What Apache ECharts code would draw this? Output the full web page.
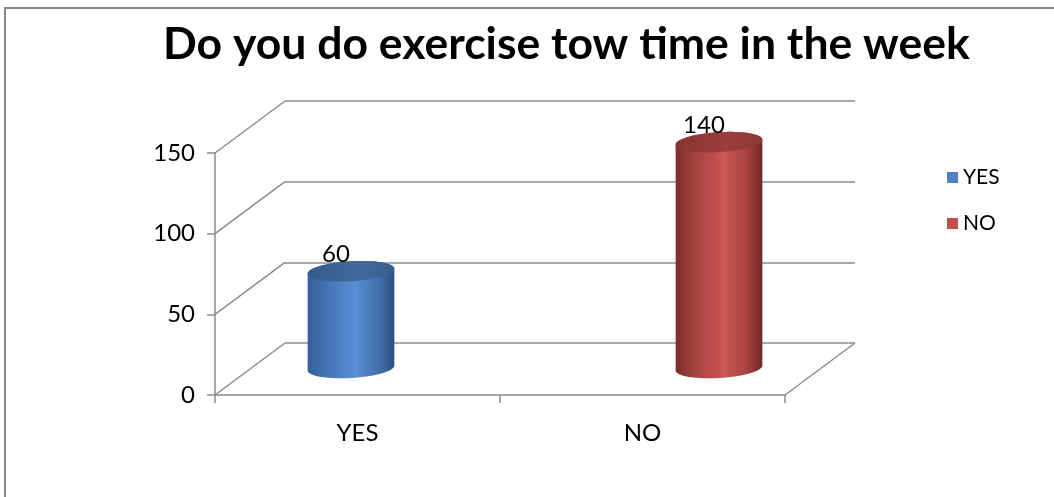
<!DOCTYPE html>
<html>
<head>
<meta charset="utf-8">
<title>Do you do exercise tow time in the week</title>
<script src="https://cdn.jsdelivr.net/npm/echarts@6/dist/echarts.min.js"></script>
<style>
  html, body { margin: 0; padding: 0; background: #ffffff; }
  #chart { width: 1054px; height: 497px; }
</style>
</head>
<body>
<div id="chart"></div>
<script>
// ---- data ----
const categories = ['YES', 'NO'];
const answerCounts = [60, 140];
const yTicks = [0, 50, 100, 150];
const seriesColors = ['#4f81bd', '#c0504d'];

// ---- layout / style ----
const FONT = 'Lato, "Open Sans", sans-serif';
const GRID_COLOR = '#8c8c8c';
const FRONT = { left: 215, top: 153, width: 570, height: 242 };
const DEPTH = [70, -52];                       // offset from front to back wall
const MID = { left: 167, top: 126, width: 736, height: 242 }; // plane the cylinders stand in
const BAR_RATIO = 0.236;                       // cylinder width / category band
const ELLIPSE_RATIO = 0.23;                    // ellipse ry / rx
const TILT = -0.06;                            // ellipse tilt (radians)

const bodyStops = [
  [[0, '#35609a'], [0.18, '#416fae'], [0.55, '#5a8fd6'], [0.82, '#426fad'], [1, '#2b4f80']],
  [[0, '#7a2d2b'], [0.18, '#9e3f3c'], [0.55, '#cd5653'], [0.82, '#a84441'], [1, '#6f2827']]
];
const topStops = [
  [[0, '#365a8a'], [0.6, '#42699c'], [1, '#3a5f90']],
  [[0, '#873534'], [0.6, '#9a3e3c'], [1, '#8c3836']]
];

function ellipsePoints(cx, cy, rx, ry, a, t0, t1, n) {
  const pts = [];
  const ca = Math.cos(a), sa = Math.sin(a);
  for (let i = 0; i <= n; i++) {
    const t = t0 + (t1 - t0) * i / n;
    const ex = rx * Math.cos(t), ey = ry * Math.sin(t);
    pts.push([cx + ex * ca - ey * sa, cy + ex * sa + ey * ca]);
  }
  return pts;
}

function renderCylinder(idx) {
  return function (params, api) {
    const cat = api.value(0), val = api.value(1);
    const base = api.coord([cat, 0]);
    const top = api.coord([cat, val]);
    const rx = api.size([1, 0])[0] * BAR_RATIO / 2;
    const ry = rx * ELLIPSE_RATIO;
    const cx = base[0];
    // outline: upper half of the top ellipse + lower half of the bottom ellipse
    const upper = ellipsePoints(cx, top[1], rx, ry, TILT, 0, -Math.PI, 40);
    const lower = ellipsePoints(cx, base[1], rx, ry, TILT, Math.PI, 0, 40);
    const body = upper.concat(lower);
    const topFace = ellipsePoints(cx, top[1], rx, ry, TILT, 0, 2 * Math.PI, 80);
    return {
      type: 'group',
      children: [
        {
          type: 'polygon',
          shape: { points: body },
          style: { fill: new echarts.graphic.LinearGradient(0, 0, 1, 0,
            bodyStops[idx].map(s => ({ offset: s[0], color: s[1] }))) }
        },
        {
          type: 'polygon',
          shape: { points: topFace },
          style: { fill: new echarts.graphic.LinearGradient(0, 0, 1, 0,
            topStops[idx].map(s => ({ offset: s[0], color: s[1] }))) }
        },
        {
          type: 'text',
          x: cx - 15,
          y: top[1] - ry - 7,
          style: {
            text: String(val),
            fill: '#000000',
            font: '24px ' + FONT,
            align: 'center',
            verticalAlign: 'middle'
          }
        }
      ]
    };
  };
}

// diagonal edges of the left wall and the floor
function renderWallEdges(params, api) {
  const v = api.value(1);
  const p = api.coord([0, v]);
  const children = [{
    type: 'line',
    shape: { x1: p[0], y1: p[1], x2: p[0] + DEPTH[0], y2: p[1] + DEPTH[1] },
    style: { stroke: GRID_COLOR, lineWidth: 1.5 }
  }];
  if (v === 0) {
    const q = api.coord([1, 0]);
    children.push({
      type: 'line',
      shape: { x1: q[0], y1: q[1], x2: q[0] + DEPTH[0], y2: q[1] + DEPTH[1] },
      style: { stroke: GRID_COLOR, lineWidth: 1.5 }
    });
  }
  return { type: 'group', children: children };
}

const chart = echarts.init(document.getElementById('chart'), null, { renderer: 'canvas' });

const cylinderSeries = categories.map((name, i) => ({
  name: name,
  type: 'custom',
  xAxisIndex: 2,
  yAxisIndex: 2,
  itemStyle: { color: seriesColors[i] },
  renderItem: renderCylinder(i),
  data: [[i, answerCounts[i]]],
  z: 5
}));

chart.setOption({
  animation: false,
  backgroundColor: '#ffffff',
  title: {
    text: 'Do you do exercise tow time in the week',
    left: 158,
    top: 17,
    textStyle: { fontFamily: FONT, fontWeight: 'bold', fontSize: 44.5, color: '#000000' }
  },
  legend: {
    orient: 'vertical',
    left: 942,
    top: 162,
    itemWidth: 11,
    itemHeight: 11,
    itemGap: 25,
    icon: 'rect',
    data: categories,
    textStyle: { fontFamily: FONT, fontSize: 21, color: '#000000' }
  },
  graphic: [{
    type: 'rect',
    shape: { x: 5, y: 8, width: 1100, height: 600 },
    style: { fill: 'none', stroke: '#888888', lineWidth: 2 },
    silent: true
  }],
  grid: [
    Object.assign({ containLabel: false }, FRONT),
    { left: FRONT.left + DEPTH[0], top: FRONT.top + DEPTH[1], width: FRONT.width, height: FRONT.height },
    MID
  ],
  xAxis: [
    {
      gridIndex: 0, type: 'category', data: categories,
      axisLine: { show: true, lineStyle: { color: GRID_COLOR, width: 1.5 } },
      axisTick: { show: true, length: 8, lineStyle: { color: GRID_COLOR, width: 1.5 } },
      axisLabel: { fontFamily: FONT, fontSize: 24, color: '#000000', margin: 26 },
      splitLine: { show: false }
    },
    { gridIndex: 1, type: 'category', data: categories, show: false },
    { gridIndex: 2, type: 'category', data: categories, show: false },
    { gridIndex: 0, type: 'value', min: 0, max: 1, show: false }
  ],
  yAxis: [
    {
      gridIndex: 0, type: 'value', min: yTicks[0], max: yTicks[yTicks.length - 1], interval: 50,
      axisLine: { show: true, lineStyle: { color: GRID_COLOR, width: 1.5 } },
      axisTick: { show: true, length: 8, lineStyle: { color: GRID_COLOR, width: 1.5 } },
      axisLabel: { fontFamily: FONT, fontSize: 24, color: '#000000', margin: 20 },
      splitLine: { show: false }
    },
    {
      gridIndex: 1, type: 'value', min: yTicks[0], max: yTicks[yTicks.length - 1], interval: 50,
      axisLine: { show: false }, axisTick: { show: false }, axisLabel: { show: false },
      splitLine: { show: true, lineStyle: { color: GRID_COLOR, width: 1.5 } }
    },
    {
      gridIndex: 2, type: 'value', min: yTicks[0], max: yTicks[yTicks.length - 1], interval: 50,
      show: false, splitLine: { show: false }
    }
  ],
  series: [
    {
      name: 'wall',
      type: 'custom',
      xAxisIndex: 3,
      yAxisIndex: 0,
      renderItem: renderWallEdges,
      data: yTicks.map(v => [0, v]),
      silent: true,
      z: 1
    }
  ].concat(cylinderSeries)
});
</script>
</body>
</html>
